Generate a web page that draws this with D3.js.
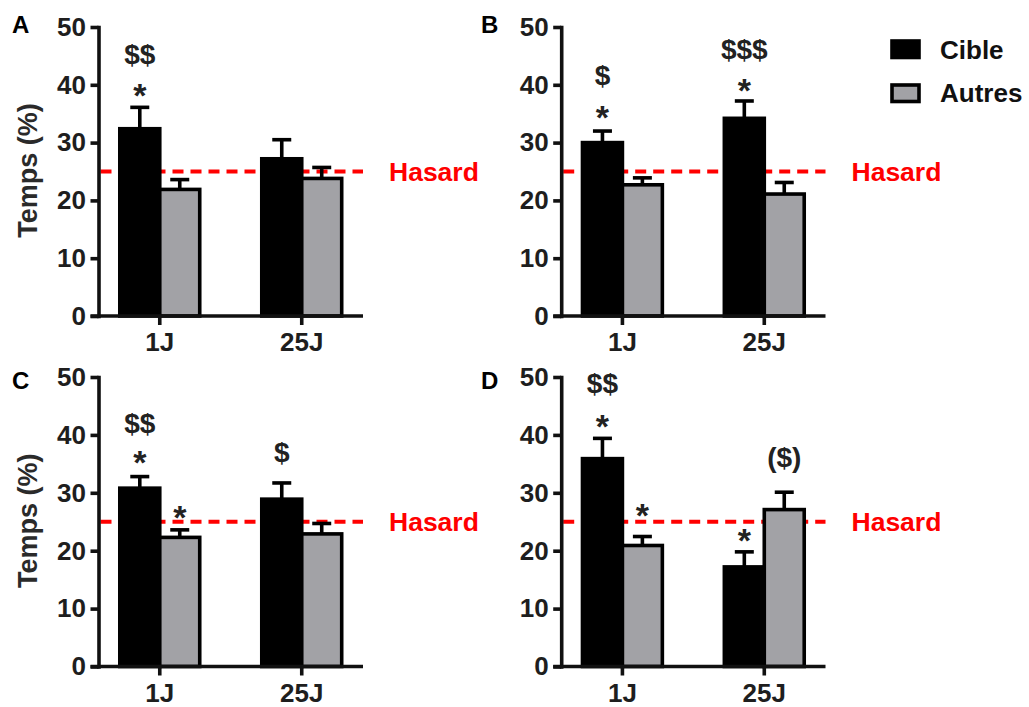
<!DOCTYPE html>
<html><head><meta charset="utf-8">
<script src="https://cdn.jsdelivr.net/npm/d3@7"></script>
<style>
html,body{margin:0;padding:0;background:#fff;}
svg{display:block;}
text{font-family:"Liberation Sans",Arial,sans-serif;font-weight:bold;}
</style></head>
<body>
<svg id="chart" width="1029" height="707"></svg>
<script>
// ---------- data ----------
const panelLabels = ["A","B","C","D"];
const categories = ["1J","25J"];
const seriesNames = ["Cible","Autres"];
const yTicks = [0,10,20,30,40,50];
const chanceLevel = 25;
const chanceLabel = "Hasard";
const yTitle = "Temps (%)";
// mean per panel [1J, 25J]
const cibleMeans  = [[32.4,27.2],[30.0,34.2],[30.8,28.9],[35.9,17.2]];
const autresMeans = [[21.9,23.8],[22.7,21.1],[22.3,22.9],[20.9,27.1]];
// SEM per panel [1J, 25J]
const cibleSEM  = [[3.7,3.3],[2.0,3.0],[2.0,2.8],[3.5,2.6]];
const autresSEM = [[1.7,1.9],[1.2,2.0],[1.3,1.8],[1.55,3.0]];
// annotations: panel, category, series, text, baseline level (axis units)
const annotPanel  = ["A","A","B","B","B","B","C","C","C","C","D","D","D","D","D"];
const annotCat    = ["1J","1J","1J","1J","25J","25J","1J","1J","1J","25J","1J","1J","1J","25J","25J"];
const annotSeries = ["Cible","Cible","Cible","Cible","Cible","Cible","Cible","Cible","Autres","Cible","Cible","Cible","Autres","Cible","Autres"];
const annotText   = ["$$","*","$","*","$$$","*","$$","*","*","$","$$","*","*","*","($)"];
const annotLevel  = [43.6,36.1,40.0,32.4,44.5,37.1,40.4,33.3,23.8,35.3,47.2,39.5,24.1,19.8,34.4];

// ---------- layout ----------
const layout = {
  A:{left:98.5,right:363,top:27,bottom:316,lx:12,ly:33,title:true},
  B:{left:561.2,right:825.5,top:27,bottom:316,lx:481,ly:33,title:false},
  C:{left:98.5,right:363,top:377,bottom:666.5,lx:12,ly:389,title:true},
  D:{left:561.2,right:825.5,top:377,bottom:666.5,lx:481,ly:389,title:false}
};
const colors = {Cible:"#000000", Autres:"#a2a2a6"};
const textColor = "#1e1e1e";
const strokeW = 3.6;

const svg = d3.select("#chart");

panelLabels.forEach((p, pi) => {
  const L = layout[p];
  const g = svg.append("g");
  const y = d3.scaleLinear().domain([0,50]).range([L.bottom, L.top]);
  const x = d3.scaleBand().domain(categories).range([L.left, L.right])
              .paddingInner(0.437).paddingOuter(0.15);
  const xs = d3.scaleBand().domain(seriesNames).range([0, x.bandwidth()]).padding(0);

  const rows = [];
  categories.forEach((c, ci) => {
    rows.push({cat:c, ser:"Cible", v:cibleMeans[pi][ci], e:cibleSEM[pi][ci]});
    rows.push({cat:c, ser:"Autres", v:autresMeans[pi][ci], e:autresSEM[pi][ci]});
  });

  // chance line
  g.append("line")
    .attr("x1", L.left + 2).attr("x2", L.right)
    .attr("y1", y(chanceLevel)).attr("y2", y(chanceLevel))
    .attr("stroke", "#ff0000").attr("stroke-width", 4)
    .attr("stroke-dasharray", "11,7");

  // error bars
  const eb = g.append("g");
  rows.forEach(r => {
    const cx = x(r.cat) + xs(r.ser) + xs.bandwidth()/2;
    eb.append("line").attr("x1",cx).attr("x2",cx)
      .attr("y1",y(r.v)).attr("y2",y(r.v+r.e))
      .attr("stroke","#000").attr("stroke-width",strokeW);
    eb.append("line").attr("x1",cx-9.5).attr("x2",cx+9.5)
      .attr("y1",y(r.v+r.e)).attr("y2",y(r.v+r.e))
      .attr("stroke","#000").attr("stroke-width",strokeW);
  });

  // bars
  g.append("g").selectAll("rect").data(rows).join("rect")
    .attr("x", d => x(d.cat) + xs(d.ser))
    .attr("width", xs.bandwidth())
    .attr("y", d => y(d.v))
    .attr("height", d => y(0) - y(d.v))
    .attr("fill", d => colors[d.ser])
    .attr("stroke", "#000").attr("stroke-width", strokeW);

  // y axis
  const ya = g.append("g").attr("transform", `translate(${L.left},0)`)
    .call(d3.axisLeft(y).tickValues(yTicks).tickSize(8).tickSizeOuter(0).tickPadding(4.5));
  ya.select(".domain").attr("stroke","#111").attr("stroke-width",strokeW).attr("stroke-linecap","square");
  ya.selectAll(".tick line").attr("stroke","#111").attr("stroke-width",strokeW);
  ya.selectAll(".tick text").attr("fill",textColor).style("font-size","26px")
    .style("font-family",'"Liberation Sans",Arial,sans-serif').style("font-weight","bold");

  // x axis
  g.append("line").attr("x1", L.left - 8).attr("x2", L.right)
    .attr("y1", y(0)).attr("y2", y(0))
    .attr("stroke","#111").attr("stroke-width",strokeW);
  const xa = g.append("g").attr("transform", `translate(0,${y(0)})`)
    .call(d3.axisBottom(x).tickSize(9).tickSizeOuter(0).tickPadding(8));
  xa.select(".domain").remove();
  xa.selectAll(".tick line").attr("stroke","#111").attr("stroke-width",strokeW);
  xa.selectAll(".tick text").attr("fill",textColor).style("font-size","26px")
    .style("font-family",'"Liberation Sans",Arial,sans-serif').style("font-weight","bold");

  // chance label
  g.append("text").attr("x", L.right + 26).attr("y", y(chanceLevel) + 9)
    .attr("fill","#ff0000").style("font-size","26.5px").text(chanceLabel);

  // panel letter
  g.append("text").attr("x", L.lx).attr("y", L.ly).attr("fill","#000")
    .style("font-size","24px").text(p);

  // y title
  if (L.title) {
    g.append("text")
      .attr("transform", `translate(37,${(L.top+L.bottom)/2 - 1}) rotate(-90)`)
      .attr("text-anchor","middle").attr("fill","#2a2a2a")
      .style("font-size","27px").text(yTitle);
  }

  // annotations
  annotPanel.forEach((ap, i) => {
    if (ap !== p) return;
    const cx = x(annotCat[i]) + xs(annotSeries[i]) + xs.bandwidth()/2;
    const isStar = annotText[i] === "*";
    g.append("text").attr("x", cx).attr("y", y(annotLevel[i]))
      .attr("text-anchor","middle").attr("fill","#222")
      .style("font-size", isStar ? "34px" : "28px").text(annotText[i]);
  });
});

// legend
const leg = svg.append("g");
seriesNames.forEach((s, i) => {
  leg.append("rect").attr("x", 892).attr("y", 41 + i*44)
    .attr("width", 27).attr("height", 16.5)
    .attr("fill", colors[s]).attr("stroke","#000").attr("stroke-width",strokeW);
  leg.append("text").attr("x", 940).attr("y", 58.5 + i*43)
    .attr("fill","#111").style("font-size","26px").text(s);
});
</script>
</body></html>
